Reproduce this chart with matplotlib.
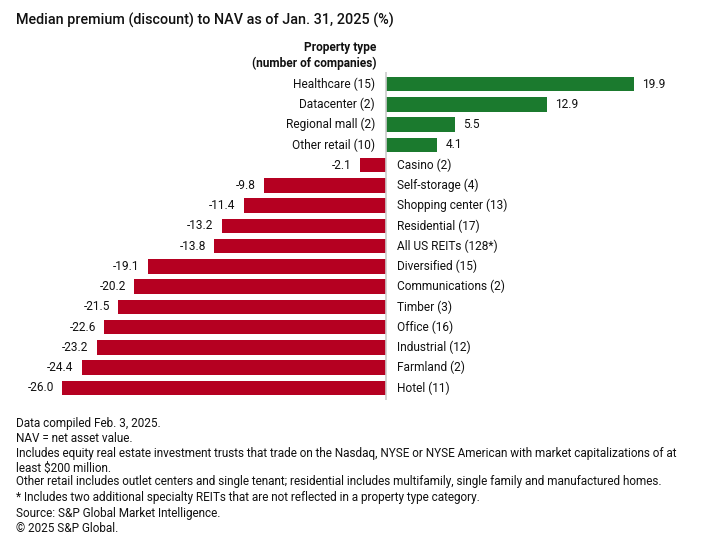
import matplotlib
matplotlib.use('Agg')
import matplotlib.pyplot as plt

# data
categories = ["Healthcare (15)", "Datacenter (2)", "Regional mall (2)", "Other retail (10)",
              "Casino (2)", "Self-storage (4)", "Shopping center (13)", "Residential (17)",
              "All US REITs (128*)", "Diversified (15)", "Communications (2)", "Timber (3)",
              "Office (16)", "Industrial (12)", "Farmland (2)", "Hotel (11)"]
values = [19.9, 12.9, 5.5, 4.1, -2.1, -9.8, -11.4, -13.2, -13.8, -19.1, -20.2,
          -21.5, -22.6, -23.2, -24.4, -26.0]

title = "Median premium (discount) to NAV as of Jan. 31, 2025 (%)"
notes = [
    "Data compiled Feb. 3, 2025.",
    "NAV = net asset value.",
    "Includes equity real estate investment trusts that trade on the Nasdaq, NYSE or NYSE American with market capitalizations of at",
    "least $200 million.",
    "Other retail includes outlet centers and single tenant; residential includes multifamily, single family and manufactured homes.",
    "* Includes two additional specialty REITs that are not reflected in a property type category.",
    "Source: S&P Global Market Intelligence.",
    "\u00a9 2025 S&P Global.",
]
note_y = [423, 439, 454, 468, 482, 498, 513, 528]  # px from top

GREEN = '#1b7a2e'
RED = '#b50021'
TXT = '#111111'
plt.rcParams['font.family'] = ['Roboto', 'DejaVu Sans']

W, H = 714, 546
fig = plt.figure(figsize=(W / 100, H / 100), dpi=100)

# axes placed so that 0 lands at x=387 px
left, right = 62, 634
top, bottom = 72, 400
ax = fig.add_axes([left / W, 1 - bottom / H, (right - left) / W, (bottom - top) / H])

n = len(categories)
ypos = list(range(n))
colors = [GREEN if v >= 0 else RED for v in values]
ax.barh(ypos, values, height=0.72, color=colors)
ax.set_xlim(-26.0, 19.9)
ax.set_ylim(n - 0.5 + 0.1, -0.6)
ax.axvline(0, color='#cccccc', lw=1.2)
ax.axis('off')

fs = 8.6
for y, cat, v in zip(ypos, categories, values):
    sgn = 1 if v >= 0 else -1
    ax.annotate(cat, (0, y), xytext=(-8 * sgn, 0), textcoords='offset points',
                ha='right' if sgn > 0 else 'left', va='center', fontsize=fs, color=TXT)
    ax.annotate(f"{v:.1f}", (v, y), xytext=(6 * sgn, 0), textcoords='offset points',
                ha='left' if sgn > 0 else 'right', va='center', fontsize=fs, color=TXT)

fig.text(376 / W, 1 - 48 / H, "Property type", ha='right', va='center',
         fontsize=fs, fontweight='bold', color=TXT)
fig.text(376 / W, 1 - 63 / H, "(number of companies)", ha='right', va='center',
         fontsize=fs, fontweight='bold', color=TXT)

fig.text(16 / W, 1 - 20 / H, title, ha='left', va='center', fontsize=10.4,
         fontweight='medium', color=TXT)

for note, yy in zip(notes, note_y):
    fig.text(16 / W, 1 - yy / H, note, ha='left', va='center', fontsize=8.5, color=TXT)

fig.savefig('out.png', dpi=100, facecolor='white')
